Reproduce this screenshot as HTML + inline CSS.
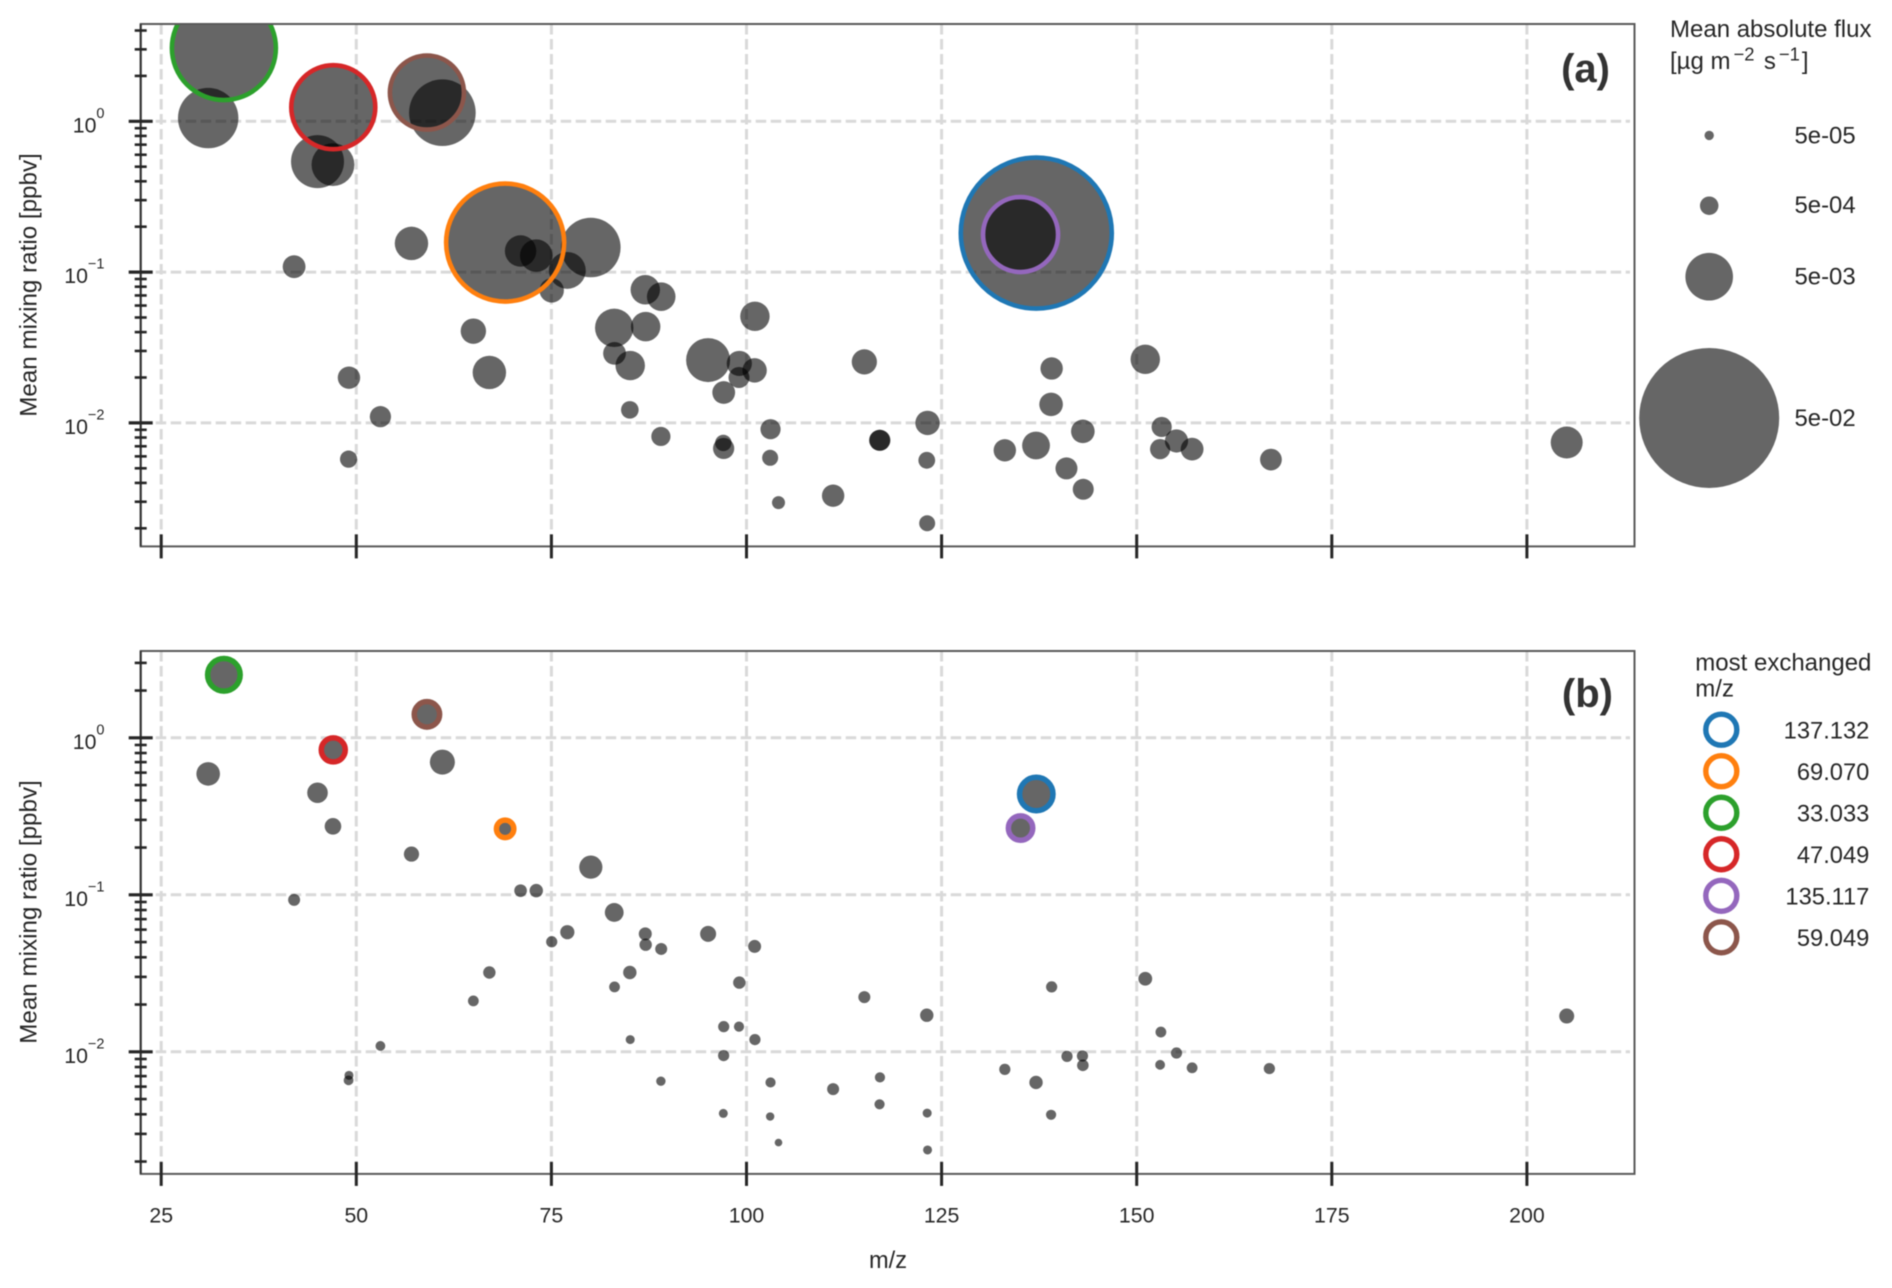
<!DOCTYPE html>
<html lang="en">
<head>
<meta charset="utf-8">
<title>Mean mixing ratio vs m/z</title>
<style>
  html, body { margin: 0; padding: 0; background: #fff; }
  svg { display: block; font-family: "Liberation Sans", Arial, sans-serif; filter: blur(0.45px); }
  text { fill: #262626; }
</style>
</head>
<body>
<svg id="figure" xmlns="http://www.w3.org/2000/svg" width="1892" height="1288" viewBox="0 0 1892 1288">
  <rect x="0" y="0" width="1892" height="1288" fill="#ffffff"/>
  <defs>
    <clipPath id="clip-a"><rect x="140.7" y="24" width="1493.8" height="522.4"/></clipPath>
    <clipPath id="clip-b"><rect x="140.7" y="651" width="1493.8" height="522.9"/></clipPath>
  </defs>
  <g id="panel-a"></g>
  <g id="panel-b"></g>

  <text x="1610" y="82" text-anchor="end" font-size="40" font-weight="bold" style="fill:#333">(a)</text>
  <text x="1613" y="707" text-anchor="end" font-size="40" font-weight="bold" style="fill:#333">(b)</text>

  <text x="36.6" y="285" transform="rotate(-90 36.6 285)" text-anchor="middle" font-size="24.2">Mean mixing ratio [ppbv]</text>
  <text x="36.6" y="912" transform="rotate(-90 36.6 912)" text-anchor="middle" font-size="24.2">Mean mixing ratio [ppbv]</text>
  <text x="888" y="1268" text-anchor="middle" font-size="23.6">m/z</text>

  <g>
    <text x="1670" y="37" font-size="24">Mean absolute flux</text>
    <text x="1670" y="69" font-size="24">[µg m<tspan dx="3" dy="-8.5" font-size="18.4">−2</tspan><tspan dx="2.7" dy="8.5"> s</tspan><tspan dx="3" dy="-8.5" font-size="18.4">−1</tspan><tspan dx="2" dy="8.5">]</tspan></text>
    <circle cx="1709.2" cy="135.4" r="4.7" fill="#666666"/>
    <circle cx="1709.2" cy="205.7" r="9.25" fill="#666666"/>
    <circle cx="1709.2" cy="276.7" r="23.8" fill="#666666"/>
    <circle cx="1709.2" cy="418" r="70" fill="#666666"/>
    <text x="1794.5" y="143.5" font-size="23.9">5e-05</text>
    <text x="1794.5" y="213" font-size="23.9">5e-04</text>
    <text x="1794.5" y="284.5" font-size="23.9">5e-03</text>
    <text x="1794.5" y="426" font-size="23.9">5e-02</text>
  </g>

  <g id="mz-legend">
    <text x="1695.3" y="670.7" font-size="24">most exchanged</text>
    <text x="1695.3" y="696.7" font-size="24">m/z</text>
  </g>

<script>
// ---- data ----
const xTickValues = [25, 50, 75, 100, 125, 150, 175, 200];
const yDecades = [0, -1, -2];
const yDecadeLabels = ["0", "−1", "−2"];
const minorMultipliers = [2, 3, 4, 5, 6, 7, 8, 9];

const highlightMz = [137.132, 69.07, 33.033, 47.049, 135.117, 59.049];
const highlightLabels = ["137.132", "69.070", "33.033", "47.049", "135.117", "59.049"];
const highlightColors = ["#1f77b4", "#ff7f0e", "#2ca02c", "#d62728", "#9467bd", "#8c564b"];

// Panel (a): m/z, mean mixing ratio [ppbv], mean absolute flux
const panelAMz = [33.033, 31.02, 47.049, 45.03, 47.01, 59.049, 61.03, 42.03, 57.07, 69.07, 71.05, 73.06, 75.04, 77.04, 80.05, 87.03, 89.07, 83.05, 87.08, 83.09, 85.1, 65.0, 67.05, 49.06, 53.09, 49.01, 95.08, 85.05, 89.03, 97.07, 97.03, 97.08, 101.08, 99.08, 99.04, 101.04, 103.08, 103.03, 104.1, 111.1, 115.1, 117.1, 117.05, 123.2, 123.1, 123.15, 133.1, 135.117, 137.132, 137.1, 139.1, 139.03, 141.0, 143.1, 143.15, 151.1, 153.2, 153.0, 155.1, 157.1, 167.2, 205.1];
const panelAPpbv = [3.06, 1.05, 1.24, 0.54, 0.516, 1.55, 1.14, 0.1086, 0.155, 0.157, 0.138, 0.1286, 0.0756, 0.1026, 0.1456, 0.0764, 0.0687, 0.0427, 0.0435, 0.0289, 0.024, 0.0406, 0.0216, 0.01995, 0.011, 0.00575, 0.0261, 0.0122, 0.00813, 0.00677, 0.00736, 0.0159, 0.0509, 0.0248, 0.02, 0.0223, 0.00908, 0.00587, 0.00296, 0.00329, 0.0254, 0.00767, 0.00767, 0.01, 0.00565, 0.00216, 0.00658, 0.1775, 0.1815, 0.00708, 0.02296, 0.01327, 0.00499, 0.00879, 0.00363, 0.0264, 0.0094, 0.0067, 0.00759, 0.0067, 0.00571, 0.00741];
const panelAFlux = [0.0269, 0.00844, 0.01715, 0.00634, 0.00394, 0.01309, 0.01044, 0.000878, 0.00223, 0.03506, 0.00193, 0.0021, 0.00104, 0.00279, 0.0082, 0.00165, 0.00154, 0.00308, 0.00165, 0.000878, 0.00165, 0.00115, 0.00223, 0.00084, 0.00073, 0.000415, 0.00419, 0.000442, 0.00056, 0.00073, 0.000362, 0.000878, 0.00165, 0.00113, 0.00071, 0.00104, 0.00064, 0.000338, 0.00018, 0.00084, 0.00113, 0.00071, 0.00071, 0.00104, 0.000388, 0.000338, 0.00084, 0.01347, 0.0585, 0.00144, 0.00084, 0.00096, 0.0008, 0.00096, 0.00071, 0.00165, 0.00064, 0.00064, 0.00092, 0.000878, 0.00078, 0.00201];

// Panel (b)
const panelBMz = [33.033, 31.02, 47.049, 45.03, 47.01, 59.049, 61.03, 42.03, 57.07, 69.07, 71.05, 73.06, 75.04, 77.04, 80.05, 83.05, 83.09, 85.05, 85.1, 87.03, 87.08, 89.07, 89.03, 65.0, 67.05, 53.09, 49.06, 49.01, 95.08, 101.04, 99.08, 97.08, 99.04, 101.08, 97.07, 103.08, 97.03, 103.03, 104.1, 111.1, 115.1, 117.1, 117.05, 123.1, 123.15, 123.2, 133.1, 135.117, 137.132, 137.1, 139.1, 139.03, 141.07, 143.05, 143.1, 151.1, 153.1, 153.0, 155.1, 157.1, 167.0, 205.1];
const panelBPpbv = [2.52, 0.589, 0.837, 0.4467, 0.273, 1.41, 0.7, 0.0929, 0.1817, 0.263, 0.1063, 0.1063, 0.0502, 0.0578, 0.15, 0.0772, 0.0259, 0.032, 0.01196, 0.0564, 0.0481, 0.0452, 0.0065, 0.0211, 0.032, 0.0109, 0.00708, 0.00658, 0.0564, 0.0469, 0.0276, 0.01446, 0.01446, 0.01196, 0.00946, 0.00638, 0.00405, 0.00387, 0.00264, 0.00578, 0.0223, 0.00687, 0.00463, 0.0171, 0.00407, 0.00237, 0.00773, 0.266, 0.4385, 0.00638, 0.0259, 0.00397, 0.00935, 0.0094, 0.0082, 0.0292, 0.01336, 0.00826, 0.00982, 0.00791, 0.00782, 0.0169];
const panelBFlux = [0.0021, 0.000959, 0.001, 0.000676, 0.000375, 0.00115, 0.00111, 0.000138, 0.000291, 0.000428, 0.000163, 0.000198, 0.000109, 0.000237, 0.000918, 0.00053, 0.0000954, 0.000198, 0.000046, 0.00018, 0.000154, 0.000138, 0.0000555, 0.0000954, 0.000154, 0.0000658, 0.000046, 0.0000658, 0.000338, 0.00018, 0.000154, 0.000109, 0.000077, 0.000109, 0.000109, 0.000077, 0.000046, 0.0000336, 0.00002, 0.000138, 0.000138, 0.000077, 0.000077, 0.000198, 0.000046, 0.000046, 0.000109, 0.00104, 0.00223, 0.000198, 0.000109, 0.000077, 0.000109, 0.000109, 0.000123, 0.000217, 0.0000954, 0.0000658, 0.000109, 0.0000954, 0.000109, 0.00028];

// ---- scales ----
const SVG_NS = "http://www.w3.org/2000/svg";
const X_ZERO = 161.2, X_PER_UNIT = 7.804;
const AXIS_LEFT = 140.7, AXIS_RIGHT = 1634.5;

function xScale(m) { return X_ZERO + (m - 25) * X_PER_UNIT; }
function makeYScale(y1, pxPerDecade) {
  return function (v) { return y1 - Math.log10(v) * pxPerDecade; };
}
function radiusScale(flux) { return 302 * Math.sqrt(flux) + 2.45; }

function svgEl(tag, attrs, parent) {
  const el = document.createElementNS(SVG_NS, tag);
  for (const k in attrs) el.setAttribute(k, attrs[k]);
  parent.appendChild(el);
  return el;
}

function drawPanel(id, geom, mz, ppbv, flux, ringWidth, showXLabels) {
  const root = document.getElementById(id);
  const yScale = makeYScale(geom.y1, geom.decade);

  // grid
  xTickValues.forEach(function (t) {
    const g = svgEl("line", { x1: xScale(t), x2: xScale(t), y1: geom.top, y2: geom.bottom, stroke: "#d9d9d9", "stroke-width": 3, "stroke-dasharray": "10.5 4.5" }, root);
    
    
  });
  yDecades.forEach(function (d) {
    const g = svgEl("line", { x1: AXIS_LEFT, x2: 1630, y1: yScale(Math.pow(10, d)), y2: yScale(Math.pow(10, d)), stroke: "#d9d9d9", "stroke-width": 3, "stroke-dasharray": "10.5 4.5" }, root);
    
    
  });

  // bubbles
  const plot = svgEl("g", { "clip-path": "url(#" + geom.clip + ")" }, root);
  
  
  mz.forEach(function (m, i) {
    const c = svgEl("circle", { cx: xScale(m), cy: yScale(ppbv[i]), r: radiusScale(flux[i]), fill: "#000000", "fill-opacity": 0.6 }, plot);
    
    
  });

  // highlight rings
  highlightMz.forEach(function (hm, k) {
    const i = mz.indexOf(hm);
    const ring = svgEl("circle", { cx: xScale(mz[i]), cy: yScale(ppbv[i]), r: radiusScale(flux[i]), fill: "none", stroke: highlightColors[k], "stroke-width": ringWidth }, plot);
    
    
  });

  // spines
  const frame = svgEl("rect", { x: AXIS_LEFT, y: geom.top, width: AXIS_RIGHT - AXIS_LEFT, height: geom.bottom - geom.top, fill: "none", stroke: "#5a5a5a", "stroke-width": 2 }, root);
  
  
  const leftSpine = svgEl("line", { x1: AXIS_LEFT, x2: AXIS_LEFT, y1: geom.top, y2: geom.bottom, stroke: "#333333", "stroke-width": 2 }, root);
  
  

  // x ticks
  xTickValues.forEach(function (t) {
    const tick = svgEl("line", { x1: xScale(t), x2: xScale(t), y1: geom.bottom - 12, y2: geom.bottom + 12, stroke: "#262626", "stroke-width": 3 }, root);
    
    
    if (showXLabels) {
      const label = svgEl("text", { x: xScale(t), y: geom.bottom + 48.5, "text-anchor": "middle", "font-size": 21.3 }, root);
      label.textContent = String(t);
      
      
    }
  });

  // y ticks
  yDecades.forEach(function (d, n) {
    const py = yScale(Math.pow(10, d));
    const major = svgEl("line", { x1: AXIS_LEFT - 12, x2: AXIS_LEFT + 12, y1: py, y2: py, stroke: "#262626", "stroke-width": 3.2 }, root);
    
    
    const label = svgEl("text", { x: 104.5, y: py + 11, "text-anchor": "end", "font-size": 21.3 }, root);
    
    
    label.appendChild(document.createTextNode("10"));
    const sup = svgEl("tspan", { dy: -14.5, "font-size": 14.5 }, label);
    sup.textContent = yDecadeLabels[n];
  });
  [1, 0, -1, -2, -3].forEach(function (d) {
    minorMultipliers.forEach(function (mult) {
      const py = yScale(mult * Math.pow(10, d));
      if (py < geom.top || py > geom.bottom) return;
      const minor = svgEl("line", { x1: AXIS_LEFT - 6, x2: AXIS_LEFT + 6, y1: py, y2: py, stroke: "#262626", "stroke-width": 2.6 }, root);
      
      
    });
  });
}

drawPanel("panel-a", { top: 24, bottom: 546.4, y1: 121.3, decade: 150.8, clip: "clip-a" }, panelAMz, panelAPpbv, panelAFlux, 4.6, false);
drawPanel("panel-b", { top: 651, bottom: 1173.9, y1: 737.8, decade: 157, clip: "clip-b" }, panelBMz, panelBPpbv, panelBFlux, 5.5, true);

// most-exchanged legend
const mzLegend = document.getElementById("mz-legend");
highlightLabels.forEach(function (lab, k) {
  const cy = 729.7 + k * 41.52;
  const ring = svgEl("circle", { cx: 1721.3, cy: cy, r: 15.5, fill: "none", stroke: highlightColors[k], "stroke-width": 5.4 }, mzLegend);
  
  
  const t = svgEl("text", { x: 1869.3, y: cy + 8.6, "text-anchor": "end", "font-size": 23.7 }, mzLegend);
  t.textContent = lab;
  
  
});
</script>
</svg>
</body>
</html>
